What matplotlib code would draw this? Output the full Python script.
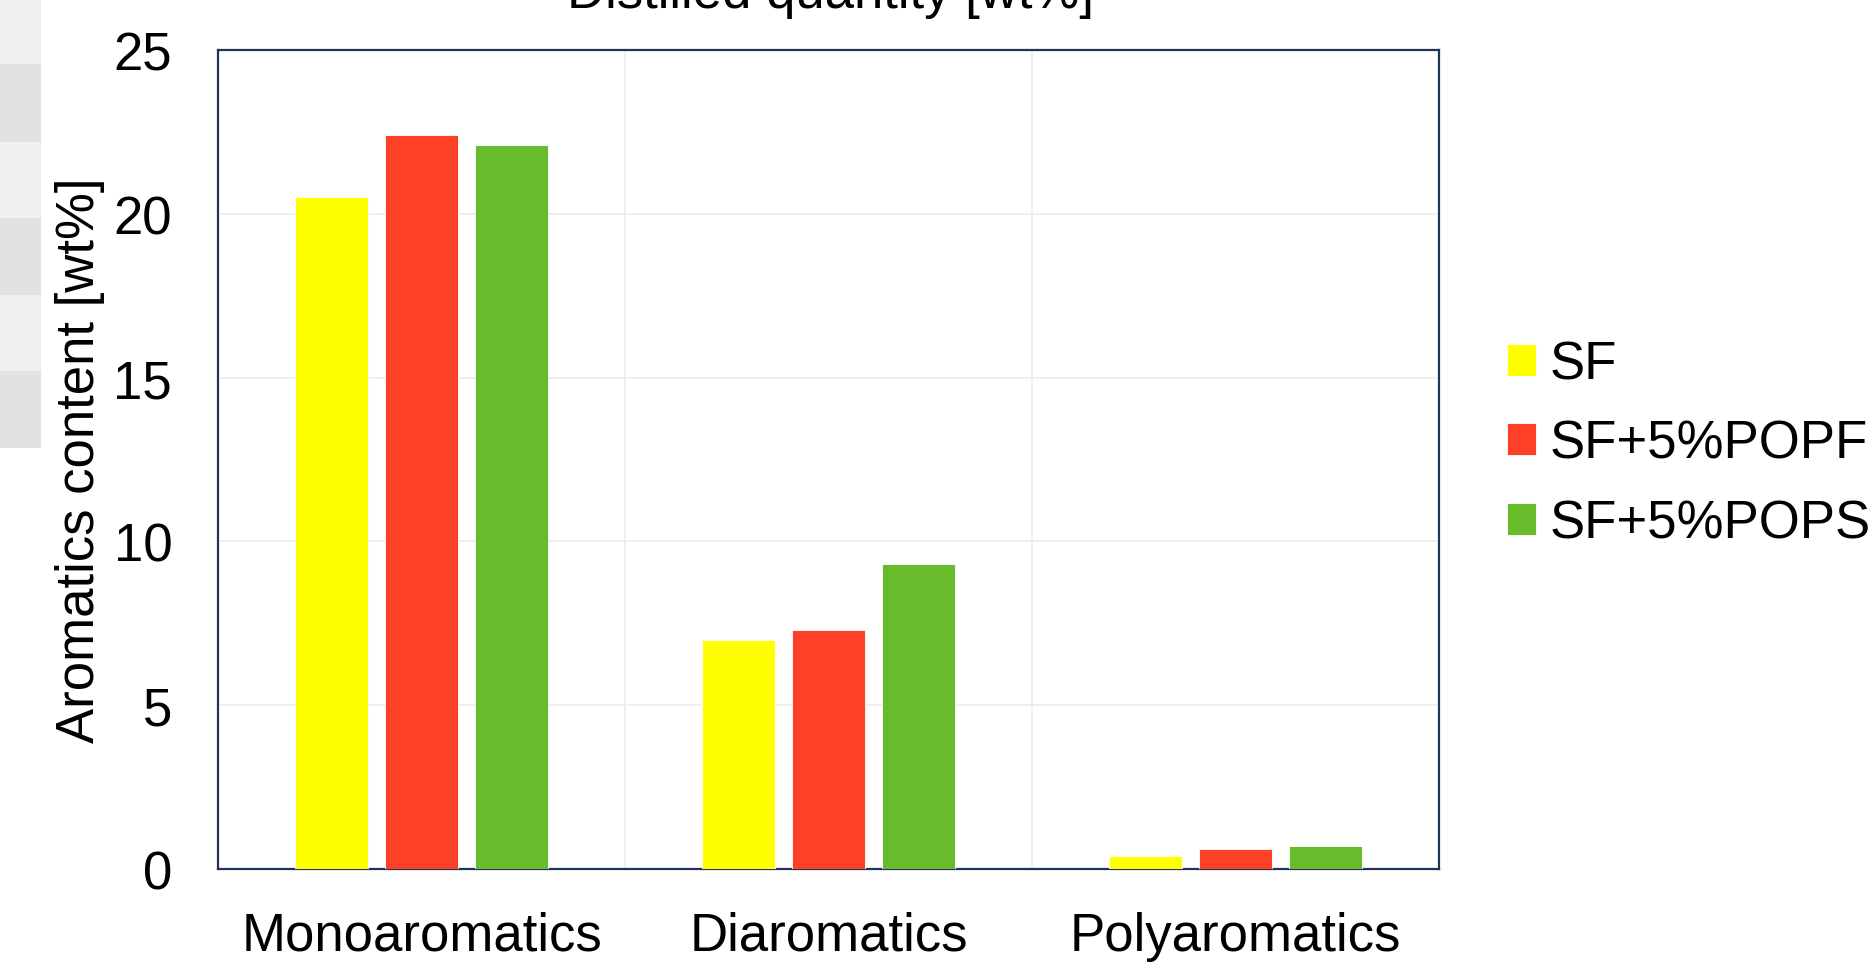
import matplotlib
matplotlib.use("Agg")
import matplotlib.pyplot as plt
from matplotlib.patches import Rectangle
import numpy as np

plt.rcParams["font.family"] = ["Liberation Sans", "DejaVu Sans"]

# Aromatics content by fraction type
categories = ["Monoaromatics", "Diaromatics", "Polyaromatics"]
series_names = ["SF", "SF+5%POPF", "SF+5%POPS"]
sf_vals = [20.5, 7.0, 0.4]
popf_vals = [22.4, 7.3, 0.6]
pops_vals = [22.1, 9.3, 0.7]
series_colors = ["#ffff00", "#fd4027", "#68bc2c"]

W, H = 1869, 970
fig = plt.figure(figsize=(W / 100, H / 100), dpi=100)

# grey side strip on the left edge
stripe_tops = [0, 65, 143, 219, 296, 372]
stripe_bottoms = [65, 143, 219, 296, 372, 449]
for i, (t, b) in enumerate(zip(stripe_tops, stripe_bottoms)):
    fc = "#f0f0f0" if i % 2 == 0 else "#e2e2e2"
    fig.patches.append(Rectangle((0, 1 - b / H), 41 / W, (b - t) / H,
                                 transform=fig.transFigure, facecolor=fc,
                                 edgecolor="none", zorder=-1))

ax = fig.add_axes([218 / W, (H - 870) / H, 1221 / W, 819 / H])

x = np.arange(len(categories))
bw = 0.18
offs = [-0.221, 0.0, 0.221]
for vals, name, col, off in zip([sf_vals, popf_vals, pops_vals],
                                series_names, series_colors, offs):
    ax.bar(x + off, vals, width=bw, color=col, edgecolor="white",
           linewidth=0.6, label=name, zorder=3)

ax.set_xlim(-0.5, 2.5)
ax.set_ylim(0, 25)
ax.set_yticks([0, 5, 10, 15, 20, 25])
ax.set_xticks(x)
ax.set_xticklabels(categories)
ax.set_xticks([0.5, 1.5], minor=True)
ax.tick_params(axis="both", which="both", length=0, labelsize=38)
ax.tick_params(axis="y", pad=33)
ax.tick_params(axis="x", pad=30)
ax.grid(axis="y", which="major", color="#ececec", lw=1.2, zorder=0)
ax.grid(axis="x", which="minor", color="#ececec", lw=1.2, zorder=0)
ax.grid(axis="x", which="major", visible=False)
for s in ax.spines.values():
    s.set_color("#1f3458")
    s.set_linewidth(1.6)

ax.set_ylabel("Aromatics content [wt%]", fontsize=38)
ax.yaxis.set_label_coords(-0.0925, 0.5)

fig.text(830 / W, 1 - 8 / H, "Distilled quantity [wt%]", fontsize=38,
         ha="center", va="baseline")

fig.legend(loc="center left", bbox_to_anchor=(1507 / W, 1 - 445 / H),
           frameon=False, fontsize=38, handlelength=0.55, handleheight=0.55,
           handletextpad=0.25, labelspacing=0.56, borderpad=0,
           borderaxespad=0)

fig.savefig("out.png", dpi=100)
